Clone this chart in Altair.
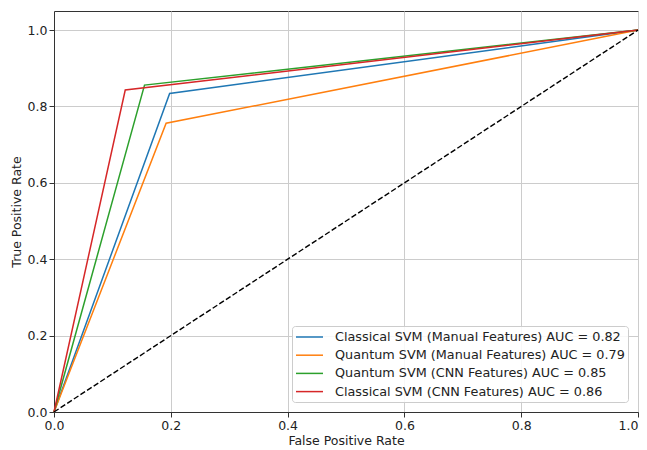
import altair as alt
import pandas as pd

# Data
models = [
    "Classical SVM (Manual Features) AUC = 0.82",
    "Quantum SVM (Manual Features) AUC = 0.79",
    "Quantum SVM (CNN Features) AUC = 0.85",
    "Classical SVM (CNN Features) AUC = 0.86",
]
colors = ["#1f77b4", "#ff7f0e", "#2ca02c", "#d62728"]
knee_fpr = [0.198, 0.192, 0.155, 0.122]
knee_tpr = [0.834, 0.756, 0.856, 0.843]
diag_x = [0.0, 1.0]
diag_y = [0.0, 1.0]
tick_values = [0, 0.2, 0.4, 0.6, 0.8, 1.0]

rows = []
for m, fx, ty in zip(models, knee_fpr, knee_tpr):
    for i, (x, y) in enumerate([(0.0, 0.0), (fx, ty), (1.0, 1.0)]):
        rows.append({"model": m, "fpr": x, "tpr": y, "order": i})
df = pd.DataFrame(rows)
diag = pd.DataFrame({"fpr": diag_x, "tpr": diag_y})

xscale = alt.Scale(domain=[0, 1], nice=False)
yscale = alt.Scale(domain=[0, 1.05], nice=False)

xaxis = alt.Axis(
    title="False Positive Rate", values=tick_values, format=".1f",
    labelFlush=False, labelOverlap=False, titlePadding=3,
    labelAlign={"condition": {"test": "datum.value >= 1", "value": "right"}, "value": "center"},
)
yaxis = alt.Axis(title="True Positive Rate", values=tick_values, format=".1f",
                 labelFlush=False, labelOverlap=False, titlePadding=4)

lines = alt.Chart(df).mark_line(strokeWidth=1.5).encode(
    x=alt.X("fpr:Q", scale=xscale, axis=xaxis),
    y=alt.Y("tpr:Q", scale=yscale, axis=yaxis),
    order="order:Q",
    color=alt.Color(
        "model:N",
        scale=alt.Scale(domain=models, range=colors),
        legend=alt.Legend(
            title=None,
            orient="none",
            legendX=238,
            legendY=315,
            symbolType="M-1,0H2.86",
            symbolSize=196,
            symbolStrokeWidth=1.5,
            symbolFillColor="transparent",
            labelOffset=24,
            labelFontSize=12.8,
            labelFont="DejaVu Sans",
            labelColor="#222",
            rowPadding=3.2,
            padding=3,
            fillColor="rgba(255,255,255,0.85)",
            strokeColor="#cccccc",
            cornerRadius=3,
            labelLimit=400,
        ),
    ),
)

diag_line = alt.Chart(diag).mark_line(color="black", strokeDash=[5.5, 2.4], strokeWidth=1.4).encode(
    x=alt.X("fpr:Q", scale=xscale),
    y=alt.Y("tpr:Q", scale=yscale),
)

chart = (
    alt.layer(lines, diag_line)
    .properties(
        width=584,
        height=401,
        autosize=alt.AutoSizeParams(type="none"),
        padding={"left": 46, "top": 3, "right": 1, "bottom": 38},
    )
    .configure_view(stroke="#333333", strokeWidth=1)
    .configure_axis(
        labelFont="DejaVu Sans",
        titleFont="DejaVu Sans",
        labelFontSize=12.5,
        titleFontSize=12.5,
        titleFontWeight="normal",
        labelColor="#222",
        titleColor="#222",
        grid=True,
        gridColor="#cccccc",
        gridWidth=1,
        domainColor="#333333",
        tickColor="#333333",
        tickSize=5,
        labelPadding=2,
    )
)

chart.save("out.html", embed_options={"renderer": "svg", "actions": False})
